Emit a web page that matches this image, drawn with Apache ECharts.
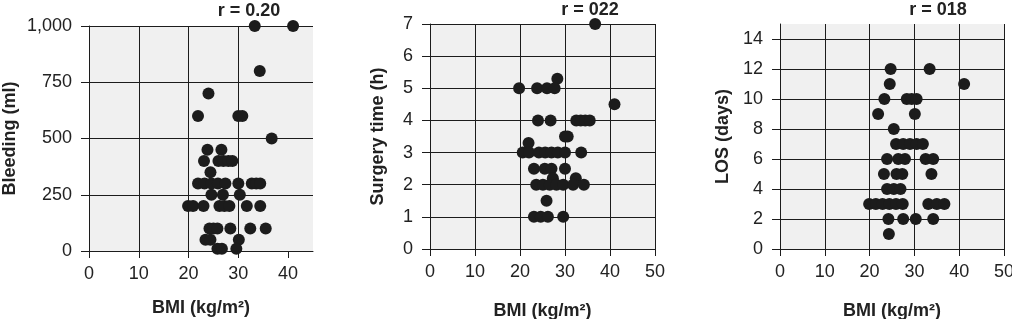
<!DOCTYPE html>
<html>
<head>
<meta charset="utf-8">
<script src="https://cdn.jsdelivr.net/npm/echarts@6/dist/echarts.min.js"></script>
<style>
  html, body { margin: 0; padding: 0; background: #fff; }
  #chart { width: 1012px; height: 319px; }
</style>
</head>
<body>
<div id="chart"></div>
<script>
// [BMI, bleeding (ml)]
const bleedingPoints = [
  [33.3, 1000], [41.0, 1000], [34.3, 800], [24.0, 700],
  [21.9, 600], [30.0, 600], [30.8, 600], [36.7, 500],
  [23.8, 450], [26.6, 450],
  [23.1, 400], [26.0, 400], [27.0, 400], [28.0, 400], [28.8, 400],
  [24.4, 350],
  [21.9, 300], [23.2, 300], [24.6, 300], [25.9, 300], [27.4, 300], [30.0, 300], [32.7, 300], [33.6, 300], [34.4, 300],
  [24.6, 250], [26.9, 250], [30.3, 250],
  [19.9, 200], [20.9, 200], [23.0, 200], [26.2, 200], [27.2, 200], [28.2, 200], [31.7, 200], [34.4, 200],
  [24.2, 100], [25.0, 100], [25.8, 100], [28.4, 100], [32.4, 100], [35.5, 100],
  [23.4, 50], [24.4, 50], [30.1, 50],
  [25.8, 10], [26.7, 10], [29.6, 10]
];
// [BMI, surgery time (h)]
const surgeryPoints = [
  [36.7, 7], [28.3, 5.3],
  [19.8, 5], [23.8, 5], [26.0, 5], [27.7, 5],
  [41.0, 4.5],
  [24.0, 4], [26.8, 4], [32.5, 4], [33.5, 4], [34.5, 4], [35.5, 4],
  [30.0, 3.5], [30.6, 3.5], [21.9, 3.3],
  [20.6, 3], [22.0, 3], [24.2, 3], [25.6, 3], [27.0, 3], [28.4, 3], [30.0, 3], [33.6, 3],
  [23.1, 2.5], [25.5, 2.5], [27.0, 2.5], [30.0, 2.5],
  [27.3, 2.2], [32.4, 2.2],
  [23.6, 2], [25.1, 2], [26.6, 2], [28.1, 2], [29.6, 2], [31.8, 2], [34.2, 2],
  [25.9, 1.5],
  [23.1, 1], [24.6, 1], [26.2, 1], [29.6, 1]
];
// [BMI, LOS (days)]
const losPoints = [
  [24.7, 12], [33.4, 12], [24.5, 11], [41.1, 11],
  [23.3, 10], [28.3, 10], [29.4, 10], [30.5, 10],
  [21.9, 9], [30.1, 9], [25.4, 8],
  [25.9, 7], [27.5, 7], [29.0, 7], [30.5, 7], [31.9, 7],
  [23.9, 6], [26.4, 6], [27.9, 6], [32.5, 6], [34.2, 6],
  [23.2, 5], [26.0, 5], [27.3, 5], [33.8, 5],
  [23.9, 4], [25.4, 4], [26.9, 4],
  [19.9, 3], [21.4, 3], [22.9, 3], [24.4, 3], [25.9, 3], [27.4, 3], [33.1, 3], [35.0, 3], [36.7, 3],
  [24.2, 2], [27.5, 2], [30.3, 2], [34.2, 2],
  [24.3, 1]
];
const panelTitles = ['r = 0.20', 'r = 022', 'r = 018'];
const yNames = ['Bleeding (ml)', 'Surgery time (h)', 'LOS (days)'];
const xName = 'BMI (kg/m\u00b2)';

const INK = '#1c1c1c';
const chart = echarts.init(document.getElementById('chart'));

const lineStyle = { color: INK, width: 1 };
const tickLabel = { color: '#222', fontSize: 18, fontFamily: 'Liberation Sans, Arial, sans-serif' };
const nameStyle = { color: '#222', fontSize: 18, fontWeight: 'bold', fontFamily: 'Liberation Sans, Arial, sans-serif' };

// fixed plot boxes, no auto shrinking for labels
const grids = [
  { left: 89, top: 26, width: 224, height: 225 },
  { left: 430, top: 24, width: 225, height: 225 },
  { left: 780, top: 24, width: 224, height: 225 }
].map(g => Object.assign({
  show: true, backgroundColor: '#f0f0f0', borderWidth: 0,
  containLabel: false, outerBoundsMode: 'none'
}, g));

const xAxisBase = (i, max, extra) => Object.assign({
  type: 'value', gridIndex: i, min: 0, max: max, interval: 10,
  name: xName, nameLocation: 'middle', nameGap: i === 0 ? 48 : 53, nameTextStyle: nameStyle,
  axisLine: { show: true, onZero: false, lineStyle: lineStyle },
  axisTick: { show: true, inside: false, length: 7, lineStyle: lineStyle },
  axisLabel: Object.assign({ margin: 14 }, tickLabel),
  splitLine: { show: true, lineStyle: lineStyle }
}, extra || {});

const yAxisBase = (i, max, interval, gap, extra) => Object.assign({
  type: 'value', gridIndex: i, min: 0, max: max, interval: interval,
  name: yNames[i], nameLocation: 'middle', nameGap: gap, nameTextStyle: nameStyle,
  axisLine: { show: true, onZero: false, lineStyle: lineStyle },
  axisTick: { show: true, inside: false, length: 8, lineStyle: lineStyle },
  axisLabel: Object.assign({ margin: 17 }, tickLabel),
  splitLine: { show: true, lineStyle: lineStyle }
}, extra || {});

const option = {
  animation: false,
  backgroundColor: '#fff',
  title: [
    { text: panelTitles[0], left: 249, top: 2 },
    { text: panelTitles[1], left: 590, top: 1 },
    { text: panelTitles[2], left: 938, top: 1 }
  ].map(t => Object.assign({ textAlign: 'center', padding: 0, textStyle: nameStyle }, t)),
  grid: grids,
  xAxis: [
    xAxisBase(0, 45, {
      axisTick: { show: true, length: 7, lineStyle: lineStyle, customValues: [0, 10, 20, 30, 40] },
      axisLabel: Object.assign({ margin: 14, showMaxLabel: false }, tickLabel),
      splitLine: { show: true, showMaxLine: false, lineStyle: lineStyle }
    }),
    xAxisBase(1, 50),
    xAxisBase(2, 50)
  ],
  yAxis: [
    yAxisBase(0, 1000, 250, 70, {
      axisLabel: Object.assign({ margin: 17, formatter: v => v.toLocaleString('en-US') }, tickLabel)
    }),
    yAxisBase(1, 7, 1, 43),
    yAxisBase(2, 15, 2, 48, {
      axisTick: { show: true, length: 8, lineStyle: lineStyle, customValues: [0, 2, 4, 6, 8, 10, 12, 14] },
      axisLabel: Object.assign({ margin: 17, showMaxLabel: false }, tickLabel)
    })
  ],
  series: [bleedingPoints, surgeryPoints, losPoints].map((pts, i) => ({
    type: 'scatter',
    xAxisIndex: i,
    yAxisIndex: i,
    data: pts,
    symbol: 'circle',
    symbolSize: 12,
    itemStyle: { color: INK, opacity: 1 },
    clip: false
  }))
};

chart.setOption(option);
</script>
</body>
</html>
